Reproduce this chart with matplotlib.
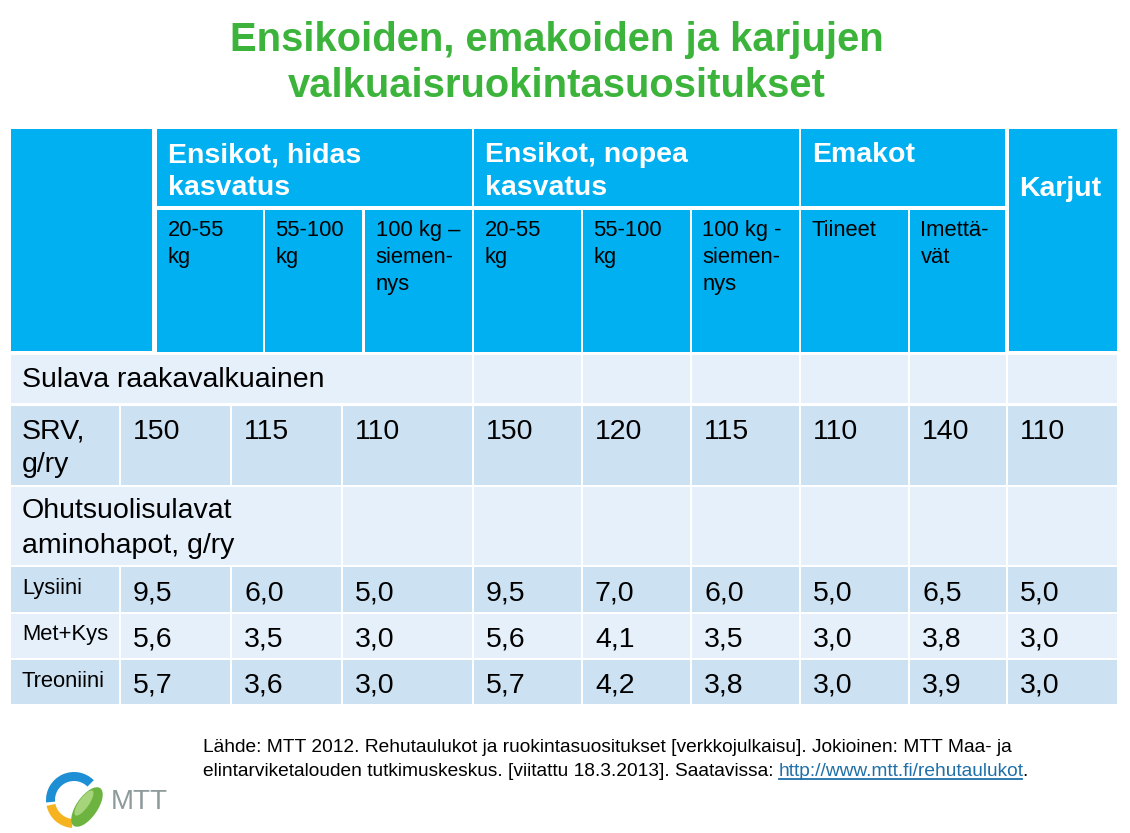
import matplotlib
matplotlib.use("Agg")
import matplotlib.pyplot as plt
from matplotlib.patches import Rectangle, Wedge, Ellipse

plt.rcParams['font.family'] = ['Liberation Sans', 'DejaVu Sans']

# ---------------- data ----------------
title_lines = ["Ensikoiden, emakoiden ja karjujen", "valkuaisruokintasuositukset"]
group_labels = ["Ensikot, hidas\nkasvatus", "Ensikot, nopea\nkasvatus", "Emakot"]
last_group = "Karjut"
sub_labels = ["20-55\nkg", "55-100\nkg", "100 kg \u2013\nsiemen-\nnys",
              "20-55\nkg", "55-100\nkg", "100 kg -\nsiemen-\nnys",
              "Tiineet", "Imettä-\nvät"]
section1 = "Sulava raakavalkuainen"
srv_label = "SRV,\ng/ry"
srv_values = [150, 115, 110, 150, 120, 115, 110, 140, 110]
section2 = "Ohutsuolisulavat\naminohapot, g/ry"
amino_labels = ["Lysiini", "Met+Kys", "Treoniini"]
lysiini = [9.5, 6.0, 5.0, 9.5, 7.0, 6.0, 5.0, 6.5, 5.0]
metkys = [5.6, 3.5, 3.0, 5.6, 4.1, 3.5, 3.0, 3.8, 3.0]
treoniini = [5.7, 3.6, 3.0, 5.7, 4.2, 3.8, 3.0, 3.9, 3.0]
source_line1 = "Lähde: MTT 2012. Rehutaulukot ja ruokintasuositukset [verkkojulkaisu]. Jokioinen: MTT Maa- ja"
source_line2a = "elintarviketalouden tutkimuskeskus. [viitattu 18.3.2013]. Saatavissa: "
source_link = "http://www.mtt.fi/rehutaulukot"
logo_text = "MTT"

# ---------------- style / layout ----------------
W, H = 1130, 833
GREEN = '#3CB43C'
HEAD = '#00B0F0'
LIGHT = '#E5F0FA'
DARK = '#CCE1F2'
BIG = 20.5
SMALL = 15.8

fig = plt.figure(figsize=(W / 100, H / 100), dpi=100)
ax = fig.add_axes([0, 0, 1, 1])
ax.set_xlim(0, W)
ax.set_ylim(H, 0)
ax.axis('off')


def cell(x0, x1, y0, y1, color):
    ax.add_patch(Rectangle((x0, y0), x1 - x0, y1 - y0, facecolor=color,
                           edgecolor='none', zorder=1))


def lines(x, y_first, text, step, **kw):
    for k, part in enumerate(text.split('\n')):
        ax.text(x, y_first + step * k, part, ha='left', va='baseline', **kw)


def fmt(v):
    return f"{v:.1f}".replace('.', ',')


# title
for line, yb in zip(title_lines, [51, 97]):
    ax.text(557, yb, line, ha='center', va='baseline', fontsize=28.8,
            fontweight='bold', color=GREEN)

# header geometry
hdr_cols = [(157, 263), (265, 362), (365, 472), (474, 581), (583, 690),
            (692, 799), (801, 908), (910, 1005)]
group_spans = [(0, 2), (3, 5), (6, 7)]
karjut_x = (1009, 1117)
corner_x = (11, 152)
hdr_top, grp_bot, sub_top, sub_bot = 129, 206, 210, 352

cell(corner_x[0], corner_x[1], hdr_top, 351, HEAD)
cell(karjut_x[0], karjut_x[1], hdr_top, 351, HEAD)
for lab, (a, b) in zip(group_labels, group_spans):
    x0, x1 = hdr_cols[a][0], hdr_cols[b][1]
    cell(x0, x1, hdr_top, grp_bot, HEAD)
    lines(x0 + 11, 162, lab, 33, fontsize=BIG, fontweight='bold', color='white')
ax.text(karjut_x[0] + 10, 196, last_group, ha='left', va='baseline',
        fontsize=BIG, fontweight='bold', color='white')

for lab, (x0, x1) in zip(sub_labels, hdr_cols):
    cell(x0, x1, sub_top, sub_bot, HEAD)
    lines(x0 + 10.5, 236, lab, 27, fontsize=SMALL, color='black')

# body geometry
body_cols = [(11, 119), (121, 230), (232, 341), (343, 472), (474, 581),
             (583, 690), (692, 799), (801, 908), (910, 1006), (1008, 1117)]
rows = {
    'sulava': (355, 403, LIGHT),
    'srv': (406, 485, DARK),
    'ohut': (487, 565, LIGHT),
    'lys': (567, 612, DARK),
    'met': (614, 658, LIGHT),
    'tre': (660, 704, DARK),
}

# Sulava row: first 4 columns merged
y0, y1, c = rows['sulava']
cell(body_cols[0][0], body_cols[3][1], y0, y1, c)
for x0, x1 in body_cols[4:]:
    cell(x0, x1, y0, y1, c)
ax.text(22, 387, section1, ha='left', va='baseline', fontsize=BIG)

# SRV row
y0, y1, c = rows['srv']
for x0, x1 in body_cols:
    cell(x0, x1, y0, y1, c)
lines(22, 438, srv_label, 34, fontsize=BIG)
for v, (x0, x1) in zip(srv_values, body_cols[1:]):
    ax.text(x0 + 12, 439, str(v), ha='left', va='baseline', fontsize=BIG)

# Ohutsuoli row: first 3 columns merged
y0, y1, c = rows['ohut']
cell(body_cols[0][0], body_cols[2][1], y0, y1, c)
for x0, x1 in body_cols[3:]:
    cell(x0, x1, y0, y1, c)
lines(22, 518, section2, 35, fontsize=BIG)

# amino acid rows
for key, lab, vals, lab_base, val_base in zip(
        ['lys', 'met', 'tre'], amino_labels, [lysiini, metkys, treoniini],
        [594, 640, 687], [600, 646, 693]):
    y0, y1, c = rows[key]
    for x0, x1 in body_cols:
        cell(x0, x1, y0, y1, c)
    ax.text(22, lab_base, lab, ha='left', va='baseline', fontsize=SMALL)
    for v, (x0, x1) in zip(vals, body_cols[1:]):
        ax.text(x0 + 12, val_base, fmt(v), ha='left', va='baseline', fontsize=BIG)

# source text
SRC = 13.8
ax.text(203, 752, source_line1, ha='left', va='baseline', fontsize=SRC)
t = ax.text(203, 776, source_line2a, ha='left', va='baseline', fontsize=SRC)
fig.canvas.draw()
inv = ax.transData.inverted()
xl = inv.transform((t.get_window_extent().x1, 0))[0]
tl = ax.text(xl, 776, source_link, ha='left', va='baseline', fontsize=SRC,
             color='#1F6FA8')
fig.canvas.draw()
xl1 = inv.transform((tl.get_window_extent().x1, 0))[0] - 2
ax.plot([xl, xl1], [779, 779], color='#1F6FA8', lw=1.3)
ax.text(xl1, 776, ".", ha='left', va='baseline', fontsize=SRC)

# MTT logo (visual angles mirrored because the y axis is inverted)
ax.add_patch(Wedge((74, 800), 28, -185, -45, width=9, facecolor='#1E8FD5',
                   edgecolor='none'))
ax.add_patch(Wedge((74, 800), 28, -266, -192, width=9, facecolor='#F6B320',
                   edgecolor='none'))
ax.add_patch(Ellipse((87, 807), 46, 21, angle=-55, facecolor='#6DB33F',
                     edgecolor='none'))
ax.add_patch(Ellipse((84, 803), 30, 10, angle=-55, facecolor='#A6D47A',
                     edgecolor='none'))
ax.text(111, 809, logo_text, ha='left', va='baseline', fontsize=20,
        color='#8E9B9B')

fig.savefig('out.png', dpi=100)
